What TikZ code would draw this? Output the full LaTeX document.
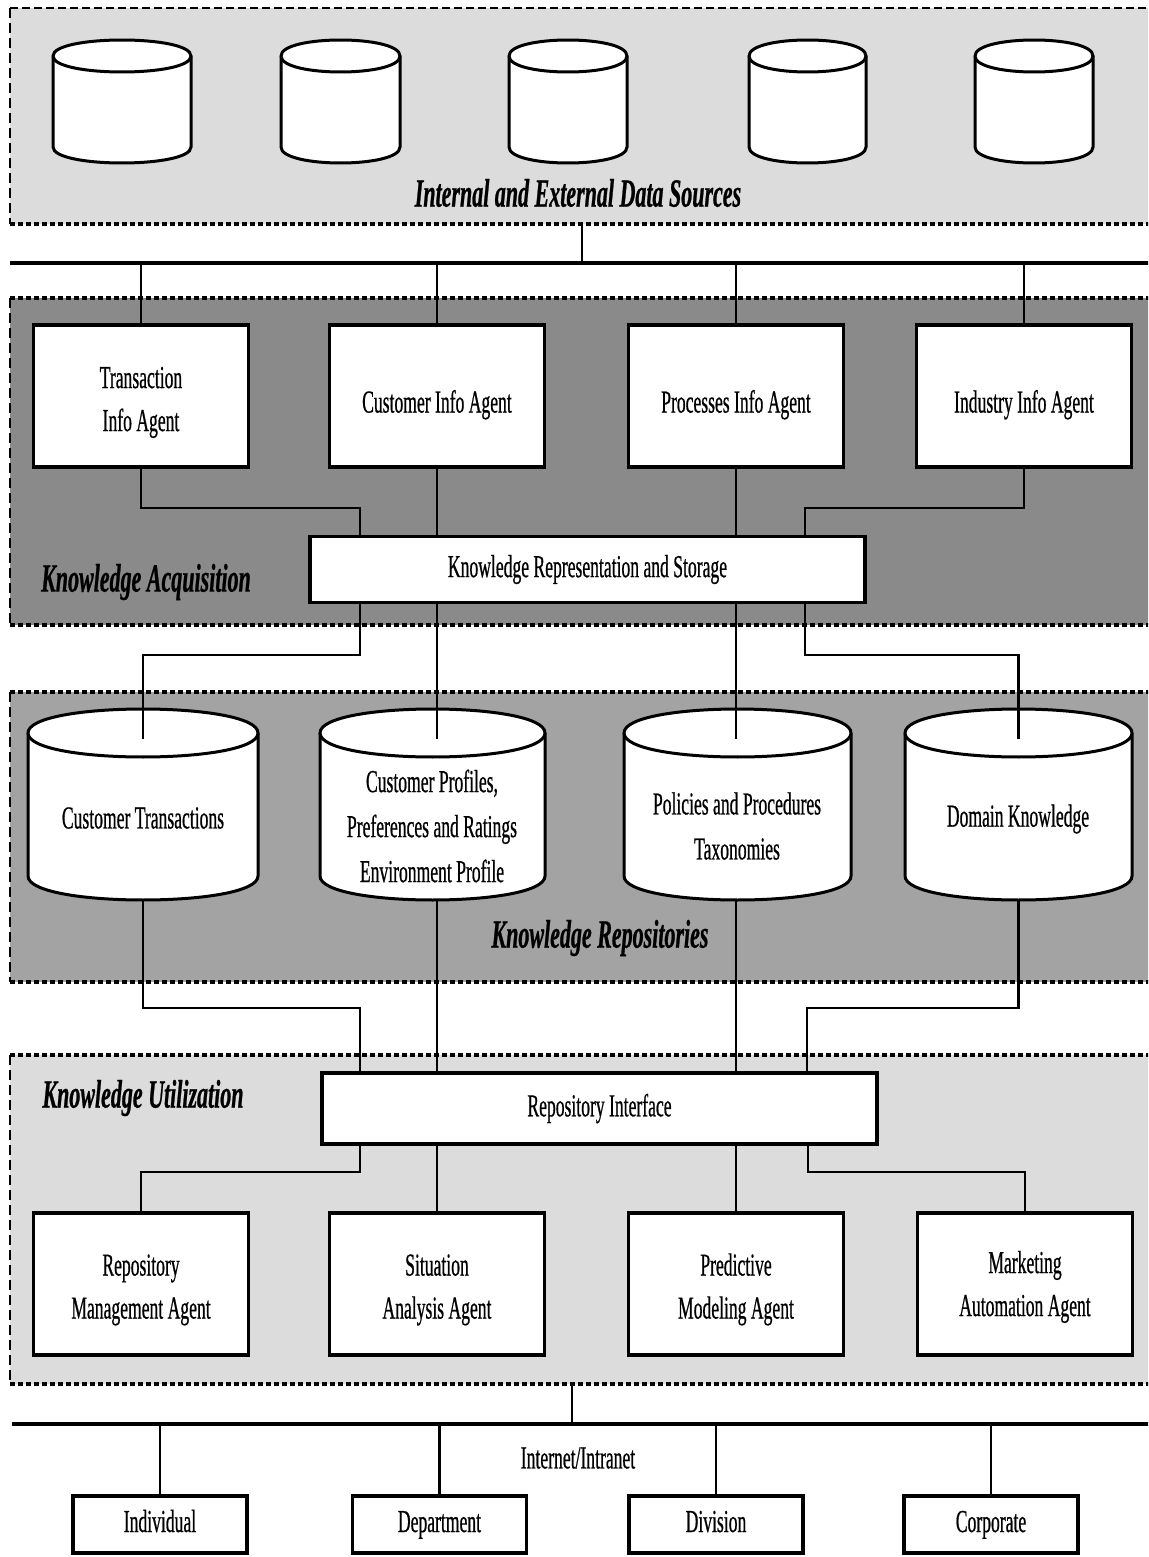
\documentclass[tikz,border=0pt]{standalone}
\usepackage{fontspec}
\setmainfont[FakeStretch=0.55,FakeBold=0.6]{Liberation Serif}
\usetikzlibrary{shadows}
\definecolor{panelL}{HTML}{DCDCDC}
\definecolor{panelD}{HTML}{8A8A8A}
\definecolor{panelM}{HTML}{A3A3A3}
\newcommand\dn[1]{\rule{0pt}{#1}}
\newcommand\mycyl[6]{%
  \filldraw[cylst] (#2,#4) -- (#2,#5) .. controls (#2,{#5+1.333*#6}) and (#3,{#5+1.333*#6}) .. (#3,#5) -- (#3,#4) .. controls (#3,{#4-1.333*#6}) and (#2,{#4-1.333*#6}) .. (#2,#4) -- cycle;
  \draw[cylst] (#2,#4) .. controls (#2,{#4+1.333*#6}) and (#3,{#4+1.333*#6}) .. (#3,#4);
  \coordinate (#1-top) at ({(#2+#3)/2},{#4+6});
  \coordinate (#1-bot) at ({(#2+#3)/2},{#5+#6});
}
\begin{document}
\begin{tikzpicture}[x=0.5pt,y=-0.5pt,
  agent/.style={draw,line width=1.6pt,fill=white,minimum width=107.5pt,minimum height=71pt,align=center,inner sep=0pt,font=\fontsize{16}{21.5}\selectfont,drop shadow={shadow xshift=0.4pt,shadow yshift=-0.9pt,fill=black,opacity=0.85}},
  wide/.style={agent,minimum width=277.5pt,minimum height=33pt},
  leaf/.style={agent,minimum width=87pt,minimum height=28.5pt,text height=11pt,text depth=3.5pt},
  txt/.style={align=center,inner sep=0pt,font=\fontsize{16}{22.5}\selectfont},
  lbl/.style={inner sep=0pt,font=\fontsize{20}{24}\selectfont\bfseries\itshape},
  conn/.style={line width=1.45pt},
  cylst/.style={line width=1.5pt,fill=white},
  sidedash/.style={line width=1pt,dash pattern=on 5pt off 2.5pt},
  topdash/.style={line width=1pt,dash pattern=on 4pt off 2pt},
  edgedash/.style={line width=1.6pt,dash pattern=on 2.5pt off 1.5pt}]
\useasboundingbox (0,0) rectangle (1148,1557);
\clip (0,0) rectangle (1148,1557);
\fill[white] (0,0) rectangle (1148,1557);

% ---------- panels ----------
\fill[panelL] (10,8) rectangle (1160,224);
\draw[sidedash] (10,8) -- (10,224);
\draw[topdash] (10,8) -- (1160,8);
\draw[edgedash] (10,224) -- (1160,224);

\fill[panelD] (10,298) rectangle (1160,625);
\draw[sidedash] (10,298) -- (10,625);
\draw[edgedash] (10,298) -- (1160,298);
\draw[edgedash] (10,625) -- (1160,625);

\fill[panelM] (10,692) rectangle (1160,982);
\draw[sidedash] (10,692) -- (10,982);
\draw[edgedash] (10,692) -- (1160,692);
\draw[edgedash] (10,982) -- (1160,982);

\fill[panelL] (10,1055) rectangle (1160,1384);
\draw[sidedash] (10,1055) -- (10,1384);
\draw[edgedash] (10,1055) -- (1160,1055);
\draw[edgedash] (10,1384) -- (1160,1384);

% ---------- data sources ----------
\mycyl{d1}{53}{191}{56}{147}{16}
\mycyl{d2}{281}{400}{56}{147}{16}
\mycyl{d3}{509}{627}{56}{147}{16}
\mycyl{d4}{749}{866}{56}{147}{16}
\mycyl{d5}{975}{1093}{56}{147}{16}
\node[lbl] (dsl) at (578,193) {Internal and External Data Sources};

\coordinate (dsb) at (582,224);
\coordinate (bus1L) at (10,263);
\coordinate (bus1R) at (1160,263);
\draw[line width=2.4pt] (bus1L) -- (bus1R);
\draw[conn] (dsb) -- (dsb |- bus1L);

% ---------- knowledge acquisition ----------
\node[agent] (a1) at (141,396) {\dn{17pt}Transaction\\Info Agent};
\node[agent] (a2) at (437,396) {\dn{20pt}Customer Info Agent};
\node[agent] (a3) at (736,396) {\dn{20pt}Processes Info Agent};
\node[agent] (a4) at (1024,396) {\dn{20pt}Industry Info Agent};
\foreach \n in {a1,a2,a3,a4} \draw[conn] (\n.north |- bus1L) -- (\n.north);

\node[wide] (kr) at (587.5,569.5) {Knowledge Representation and Storage};
\node[lbl] (kal) at (146,582) {Knowledge Acquisition};
\coordinate (j1) at (360,508);
\coordinate (j2) at (805,508);
\draw[conn] (a1.south) |- (j1) -- (j1 |- kr.north);
\draw[conn] (a2.south) -- (a2.south |- kr.north);
\draw[conn] (a3.south) -- (a3.south |- kr.north);
\draw[conn] (a4.south) |- (j2) -- (j2 |- kr.north);

% ---------- knowledge repositories ----------
\mycyl{c1}{28}{258}{733}{876}{24}
\mycyl{c2}{320}{545}{733}{876}{24}
\mycyl{c3}{624}{851}{733}{876}{24}
\mycyl{c4}{905}{1132}{733}{876}{24}
\node[txt] (c1t) at (143,818) {Customer Transactions};
\node[txt] (c2t) at (432,826) {Customer Profiles,\\Preferences and Ratings\\Environment Profile};
\node[txt] (c3t) at (737,826) {Policies and Procedures\\Taxonomies};
\node[txt] (c4t) at (1018,819) {Domain Knowledge};
\node[lbl] (krl) at (600,938) {Knowledge Repositories};

\coordinate (j3) at (360,655);
\coordinate (j4) at (805,655);
\draw[conn] (j3 |- kr.south) -- (j3) -| (c1-top);
\draw[conn] (a2 |- kr.south) -- (a2 |- c2-top);
\draw[conn] (a3 |- kr.south) -- (a3 |- c3-top);
\draw[conn] (j4 |- kr.south) -- (j4) -| (c4-top);

% ---------- knowledge utilization ----------
\node[wide,minimum height=35.5pt] (ri) at (599.5,1108.5) {Repository Interface};
\node[lbl] (kul) at (143,1098) {Knowledge Utilization};
\coordinate (j5) at (360,1008);
\coordinate (j6) at (807,1008);
\draw[conn] (c1-bot) |- (j5) -- (j5 |- ri.north);
\draw[conn] (a2 |- c2-bot) -- (a2 |- ri.north);
\draw[conn] (a3 |- c3-bot) -- (a3 |- ri.north);
\draw[conn] (c4-bot) |- (j6) -- (j6 |- ri.north);

\node[agent] (b1) at (141,1284) {\dn{16.5pt}Repository\\Management Agent};
\node[agent] (b2) at (437,1284) {\dn{16.5pt}Situation\\Analysis Agent};
\node[agent] (b3) at (736,1284) {\dn{16.5pt}Predictive\\Modeling Agent};
\node[agent] (b4) at (1025,1284) {\dn{14pt}Marketing\\Automation Agent};
\coordinate (j7) at (360,1172);
\coordinate (j8) at (808,1172);
\draw[conn] (j7 |- ri.south) -- (j7) -| (b1.north);
\draw[conn] (b2 |- ri.south) -- (b2.north);
\draw[conn] (b3 |- ri.south) -- (b3.north);
\draw[conn] (j8 |- ri.south) -- (j8) -| (b4.north);

% ---------- network ----------
\coordinate (ub) at (572,1384);
\coordinate (bus2L) at (12,1424);
\coordinate (bus2R) at (1160,1424);
\draw[line width=1.6pt] (bus2L) -- (bus2R);
\draw[conn] (ub) -- (ub |- bus2L);
\node[txt] (net) at (578,1458) {Internet/Intranet};
\node[leaf] (l1) at (160,1524.5) {Individual};
\node[leaf] (l2) at (439.5,1524.5) {Department};
\node[leaf] (l3) at (716,1524.5) {Division};
\node[leaf] (l4) at (991,1524.5) {Corporate};
\foreach \n in {l1,l2,l3,l4} \draw[conn] (\n.north |- bus2L) -- (\n.north);
\end{tikzpicture}
\end{document}
